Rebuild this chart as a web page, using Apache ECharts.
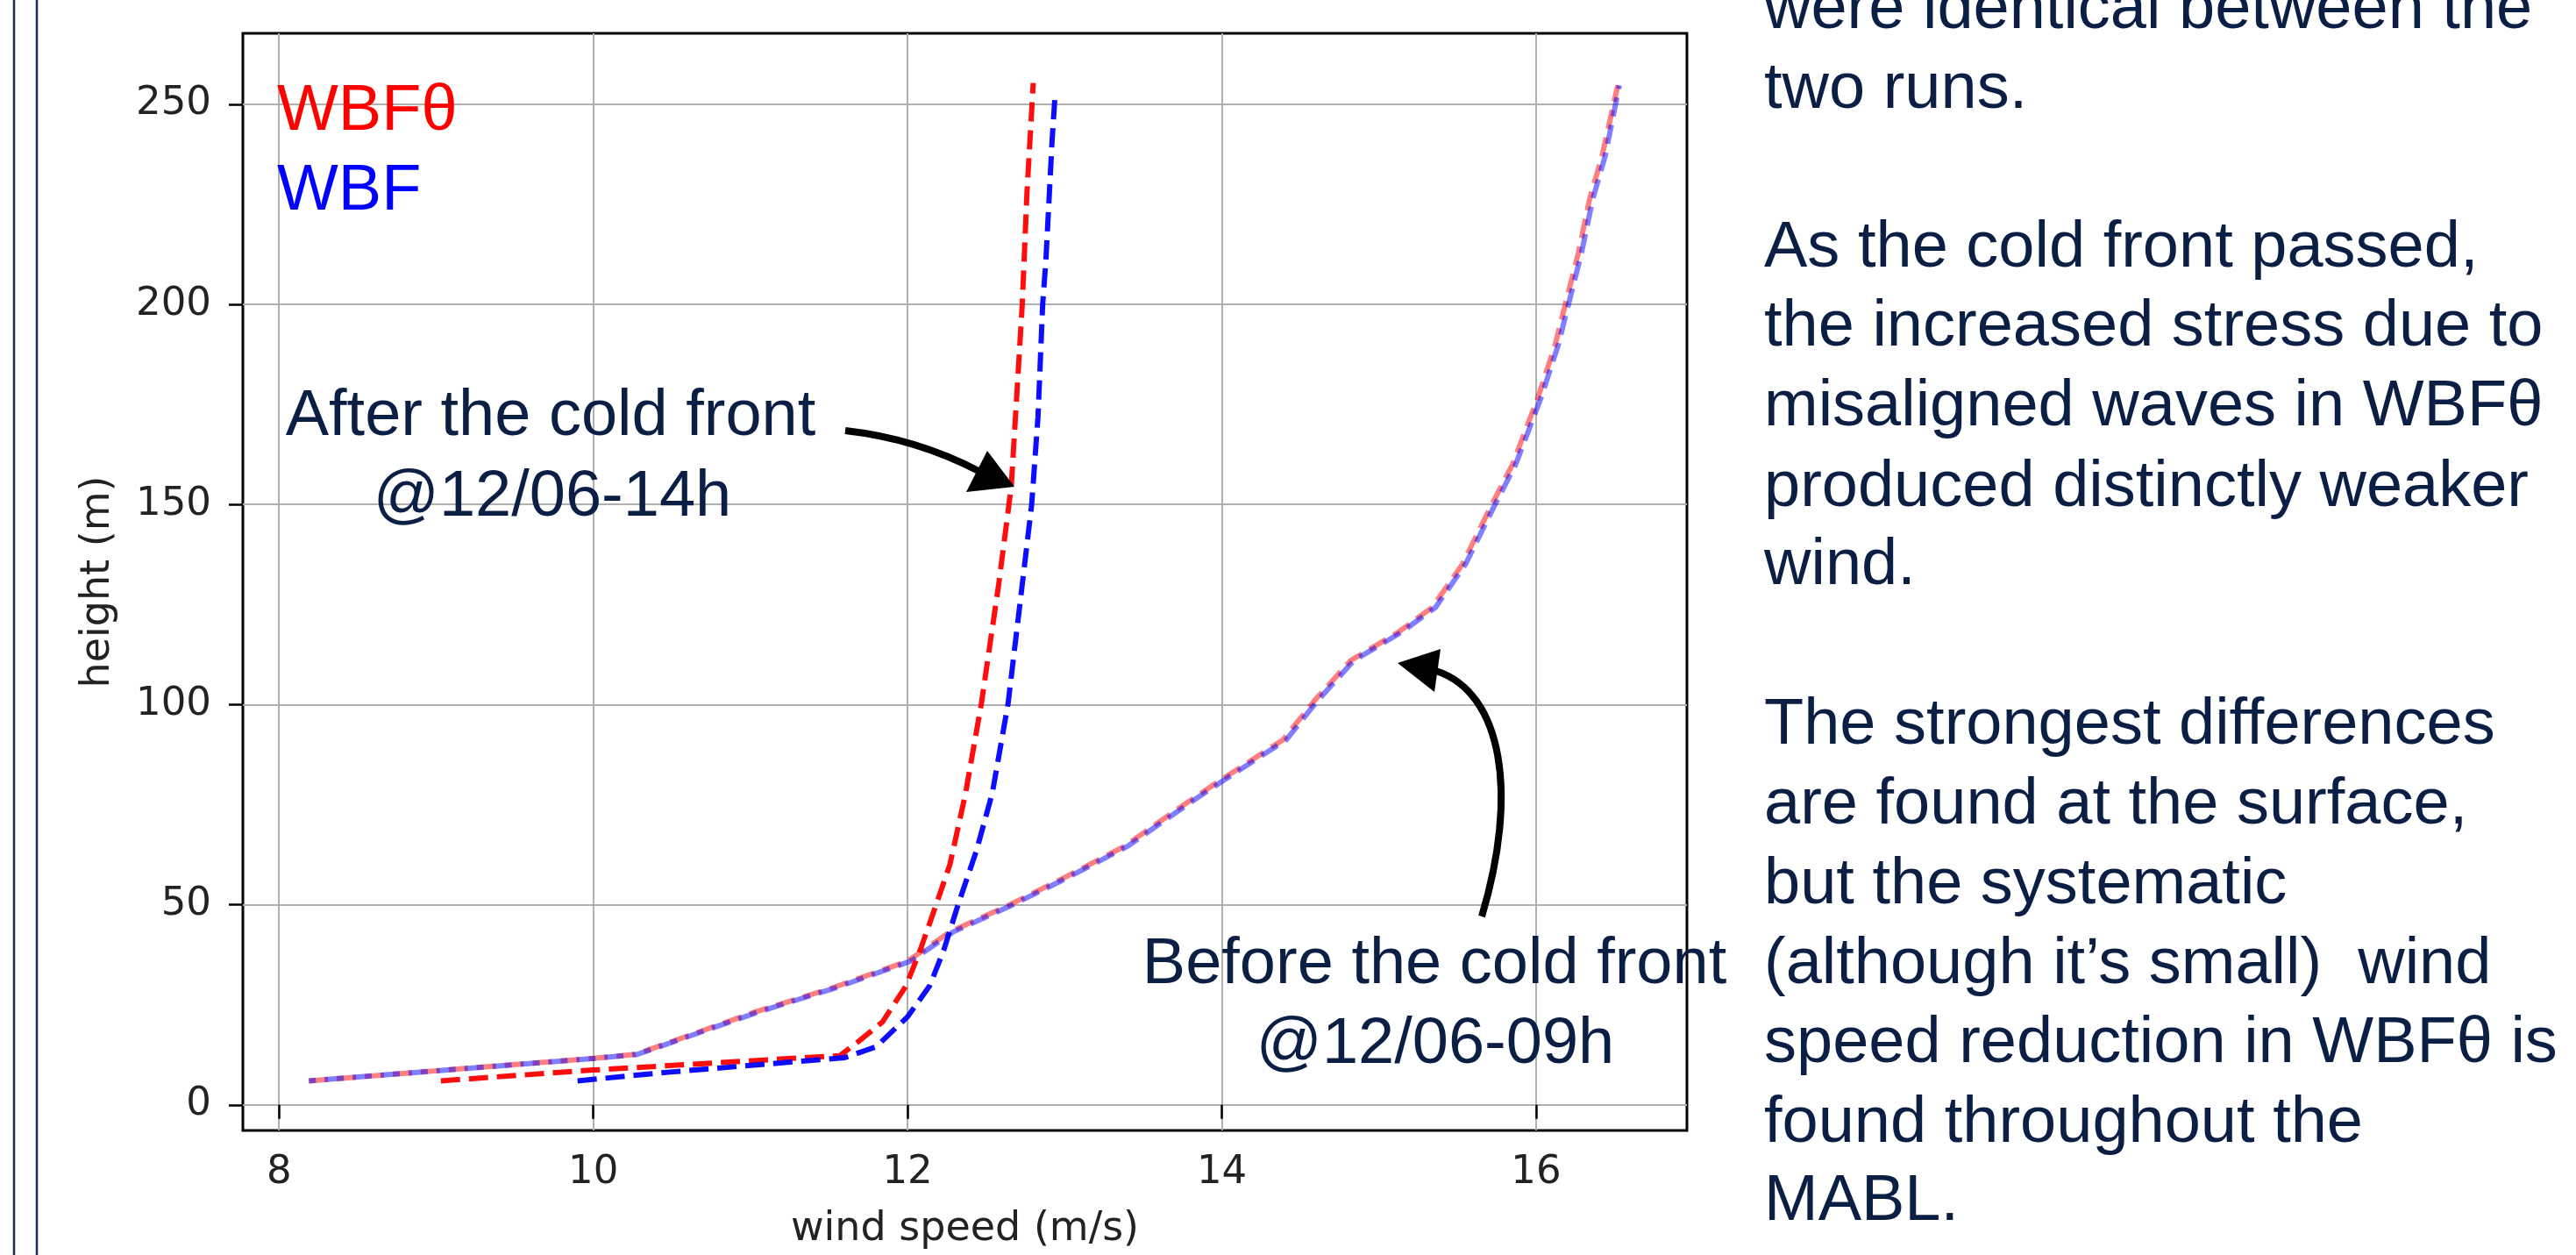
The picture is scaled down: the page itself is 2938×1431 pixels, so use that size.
<!DOCTYPE html>
<html>
<head>
<meta charset="utf-8">
<title>wind profiles</title>
<script src="https://cdn.jsdelivr.net/npm/echarts@6.0.0/dist/echarts.min.js"></script>
<style>
  html, body { margin: 0; padding: 0; background: #fff; }
  #chart { width: 2938px; height: 1431px; }
</style>
</head>
<body>
<div id="chart"></div>
<script>
// before the cold front (12/06-09h) - both runs almost on top of each other
const beforeHeight = [6.0, 11.6, 12.6, 23.2, 29.2, 35.9, 43.2, 49.8, 57.0, 64.6, 75.0, 81.3, 91.2, 101.0, 111.0, 118.0, 124.3, 135.0, 149.3, 160.0, 176.5, 189.7, 200.6, 213.0, 226.2, 237.1, 254.7];
const beforeWindWBFt = [8.19, 10.0, 10.27, 11.03, 11.52, 12.0, 12.27, 12.64, 13.01, 13.38, 13.76, 14.0, 14.39, 14.59, 14.82, 15.12, 15.34, 15.53, 15.71, 15.85, 16.01, 16.12, 16.19, 16.27, 16.34, 16.42, 16.52];
const beforeWindWBF = [8.19, 10.01, 10.28, 11.05, 11.54, 12.02, 12.29, 12.66, 13.03, 13.40, 13.78, 14.02, 14.41, 14.61, 14.84, 15.14, 15.36, 15.55, 15.73, 15.87, 16.03, 16.14, 16.21, 16.29, 16.36, 16.44, 16.53];

// after the cold front (12/06-14h)
const afterHeightWBFt = [6.0, 8.7, 12.3, 15.6, 20.7, 29.7, 38.6, 49.8, 60.1, 78.0, 100.3, 130.0, 154.5, 180.4, 200.0, 228.0, 255.3];
const afterWindWBFt = [9.03, 10.0, 11.57, 11.68, 11.84, 11.99, 12.08, 12.18, 12.27, 12.37, 12.47, 12.58, 12.66, 12.70, 12.73, 12.76, 12.80];
const afterHeightWBF = [6.0, 8.2, 11.8, 14.5, 22.0, 29.7, 38.6, 49.8, 63.7, 78.0, 100.3, 130.0, 150.0, 171.8, 200.0, 210.7, 241.0, 253.0];
const afterWindWBF = [9.90, 10.49, 11.60, 11.80, 12.00, 12.14, 12.23, 12.32, 12.44, 12.54, 12.64, 12.73, 12.79, 12.83, 12.86, 12.88, 12.92, 12.94];

const xTicks = [8, 10, 12, 14, 16];
const yTicks = [0, 50, 100, 150, 200, 250];

const sideText = [
	['were identical between the', 38],
	['two runs.', 129],
	['As the cold front passed,', 310],
	['the increased stress due to', 400],
	['misaligned waves in WBF\u03b8', 491],
	['produced distinctly weaker', 583],
	['wind.', 672],
	['The strongest differences', 854],
	['are found at the surface,', 945],
	['but the systematic', 1036],
	['(although it\u2019s small)  wind', 1127],
	['speed reduction in WBF\u03b8 is', 1217],
	['found throughout the', 1308],
	['MABL.', 1397]
];

const NAVY = '#0b1f45';
const TXT_FONT = '"Liberation Sans", Arial, sans-serif';
const AX_FONT = '"DejaVu Sans", sans-serif';

function pairs(xs, ys){
	let out = [];
	for (let i = 0; i < xs.length; i++) {
		out.push([xs[i], ys[i]]);
	}
	return out;
}

// canvas 'middle' baseline sits ~0.35em above the alphabetic one
function textAt(str, x, baseline, color, align){
	return {
		type: 'text',
		x: x,
		y: baseline - 26,
		z: 100,
		style: {
			text: str,
			fill: color,
			font: '74px ' + TXT_FONT,
			fontSize: 74,
			fontFamily: TXT_FONT,
			align: align || 'left',
			textAlign: align || 'left',
			verticalAlign: 'middle',
			textVerticalAlign: 'middle'
		}
	};
}

function dashed(name, data, color, opacity, offset){
	return {
		name: name,
		type: 'line',
		data: data,
		symbol: 'none',
		smooth: false,
		silent: true,
		lineStyle: {
			color: color,
			width: 6,
			opacity: opacity,
			type: [22, 10],
			dashOffset: offset || 0
		}
	};
}

const chartObj = echarts.init(document.getElementById('chart'), null, { renderer: 'canvas' });

let graphics = [
	// slide frame lines on the far left
	{ type: 'line', shape: { x1: 16, y1: 0, x2: 16, y2: 1431 }, style: { stroke: '#1b2d50', lineWidth: 2.5 } },
	{ type: 'line', shape: { x1: 42, y1: 0, x2: 42, y2: 1431 }, style: { stroke: '#1b2d50', lineWidth: 2.5 } },
	// run names
	textAt('WBF\u03b8', 316, 154, '#ff0000'),
	textAt('WBF', 316, 245, '#0000ff'),
	// annotations
	textAt('After the cold front', 628, 502, NAVY, 'center'),
	textAt('@12/06-14h', 630, 594, NAVY, 'center'),
	textAt('Before the cold front', 1636, 1127, NAVY, 'center'),
	textAt('@12/06-09h', 1637, 1218, NAVY, 'center'),
	// arrows
	{ type: 'bezierCurve', z: 100, shape: { x1: 964, y1: 491, cpx1: 1045, cpy1: 500, x2: 1116, y2: 537 }, style: { stroke: '#000', lineWidth: 8, fill: null } },
	{ type: 'polygon', z: 100, shape: { points: [[1157, 555], [1102, 561], [1126, 514]] }, style: { fill: '#000' } },
	{ type: 'bezierCurve', z: 100, shape: { x1: 1690, y1: 1045, cpx1: 1732, cpy1: 905, cpx2: 1714, cpy2: 790, x2: 1638, y2: 765 }, style: { stroke: '#000', lineWidth: 8, fill: null } },
	{ type: 'polygon', z: 100, shape: { points: [[1594, 756], [1643, 740], [1636, 789]] }, style: { fill: '#000' } }
];
for (let i = 0; i < sideText.length; i++) {
	graphics.push(textAt(sideText[i][0], 2012, sideText[i][1], NAVY));
}

let option = {
	animation: false,
	backgroundColor: '#fff',
	grid: {
		left: 277,
		top: 38,
		width: 1647,
		height: 1251,
		show: true,
		borderColor: '#000',
		borderWidth: 3,
		backgroundColor: 'transparent'
	},
	xAxis: {
		type: 'value',
		min: 7.77,
		max: 16.96,
		name: 'wind speed (m/s)',
		nameLocation: 'middle',
		nameGap: 90,
		nameTextStyle: { fontFamily: AX_FONT, fontSize: 46, color: '#222' },
		axisLine: { show: false },
		axisTick: { show: true, length: 16, customValues: xTicks, lineStyle: { color: '#000', width: 2.5 } },
		axisLabel: { customValues: xTicks, margin: 26, fontFamily: AX_FONT, fontSize: 45, color: '#222' },
		splitLine: { show: true, lineStyle: { color: '#b0b0b0', width: 2 } }
	},
	yAxis: {
		type: 'value',
		min: -6.4,
		max: 267.7,
		name: 'height (m)',
		nameLocation: 'middle',
		nameGap: 142,
		nameRotate: 90,
		nameTextStyle: { fontFamily: AX_FONT, fontSize: 46, color: '#222' },
		axisLine: { show: false },
		axisTick: { show: true, length: 16, customValues: yTicks, lineStyle: { color: '#000', width: 2.5 } },
		axisLabel: { customValues: yTicks, margin: 36, fontFamily: AX_FONT, fontSize: 45, color: '#222' },
		splitLine: { show: true, lineStyle: { color: '#b0b0b0', width: 2 } }
	},
	series: [
		dashed('WBF\u03b8', pairs(beforeWindWBFt, beforeHeight), '#ff0000', 0.5, 0),
		dashed('WBF', pairs(beforeWindWBF, beforeHeight), '#0000ff', 0.5, 14),
		dashed('WBF\u03b8', pairs(afterWindWBFt, afterHeightWBFt), '#ff0000', 0.95, 0),
		dashed('WBF', pairs(afterWindWBF, afterHeightWBF), '#0000ff', 0.95, 0)
	],
	graphic: graphics
};
option && chartObj.setOption(option);
</script>
</body>
</html>
